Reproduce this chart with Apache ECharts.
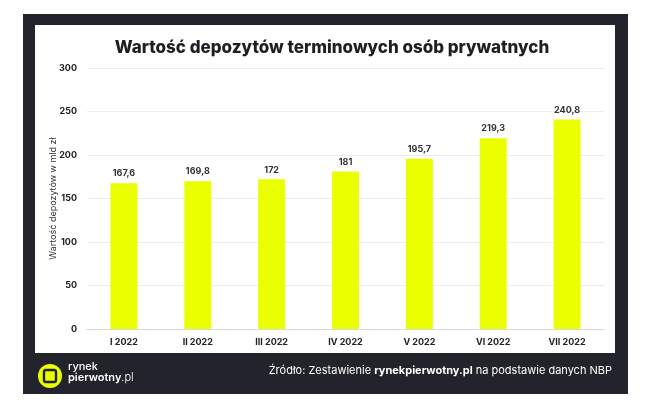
<!DOCTYPE html>
<html><head><meta charset="utf-8">
<script src="https://cdn.jsdelivr.net/npm/echarts@6/dist/echarts.min.js"></script>
<style>html,body{margin:0;padding:0;background:#fff}#c{width:664px;height:405px}</style>
</head><body><div id="c"></div>
<script>
const categories = ['I 2022','II 2022','III 2022','IV 2022','V 2022','VI 2022','VII 2022'];
const values = [167.6, 169.8, 172, 181, 195.7, 219.3, 240.8];
const yTicks = [0, 50, 100, 150, 200, 250, 300];
const titleText = 'Wartość depozytów terminowych osób prywatnych';
const yAxisName = 'Wartość depozytów w mld zł';

const F = 'Inter, "Open Sans", sans-serif';
const chart = echarts.init(document.getElementById('c'), null, {renderer:'canvas'});
chart.setOption({
  animation:false,
  backgroundColor:'#ffffff',
  graphic:[
    {type:'rect', z:-10, silent:true, shape:{x:23,y:14,width:605,height:380}, style:{fill:'#23232b'}},
    {type:'rect', z:-9, silent:true, shape:{x:35,y:25,width:580,height:328}, style:{fill:'#ffffff'}},
    {type:'circle', shape:{cx:50,cy:376,r:12}, style:{fill:'#eaff00'}},
    {type:'rect', shape:{x:44,y:370,width:12,height:12,r:2}, style:{fill:'none',stroke:'#23232b',lineWidth:2.4}},
    {type:'text', left:68, top:361, style:{text:'rynek',fill:'#ffffff',font:'500 11px '+F}},
    {type:'text', left:68, top:372, style:{rich:{a:{fill:'#ffffff',font:'600 11px '+F},b:{fill:'#ffffff',font:'300 11px '+F}}, text:'{a|pierwotny}{b|.pl}'}},
    {type:'text', right:52, top:365, style:{rich:{n:{fill:'#ffffff',font:'400 11px '+F},b:{fill:'#ffffff',font:'700 11px '+F}}, text:'{n|Źródło: Zestawienie }{b|rynekpierwotny.pl}{n| na podstawie danych NBP}'}}
  ],
  title:{text:titleText, left:'center', top:34,
    textStyle:{fontFamily:F, fontWeight:800, fontSize:17, color:'#1e1e24'}},
  grid:{left:87, right:60, top:68, bottom:76, containLabel:false},
  xAxis:{type:'category', data:categories,
    axisLine:{lineStyle:{color:'#d9d9d9'}}, axisTick:{show:false},
    axisLabel:{fontFamily:F, fontWeight:700, fontSize:9, color:'#222', margin:9}},
  yAxis:{type:'value', min:yTicks[0], max:yTicks[yTicks.length-1], interval:50,
    name:yAxisName, nameLocation:'middle', nameGap:29, nameMoveOverlap:false,
    nameTextStyle:{fontFamily:F, fontSize:9, color:'#333'},
    axisLine:{show:false}, axisTick:{show:false},
    axisLabel:{fontFamily:F, fontWeight:700, fontSize:9, color:'#222', margin:10},
    splitLine:{lineStyle:{color:'#ececec'}}},
  series:[{type:'bar', data:values, barWidth:27,
    itemStyle:{color:'#eaff00'},
    label:{show:true, position:'top', distance:5, fontFamily:F, fontWeight:700, fontSize:9, color:'#333',
      formatter:p=>String(p.value).replace('.',',')}}]
});
</script></body></html>
